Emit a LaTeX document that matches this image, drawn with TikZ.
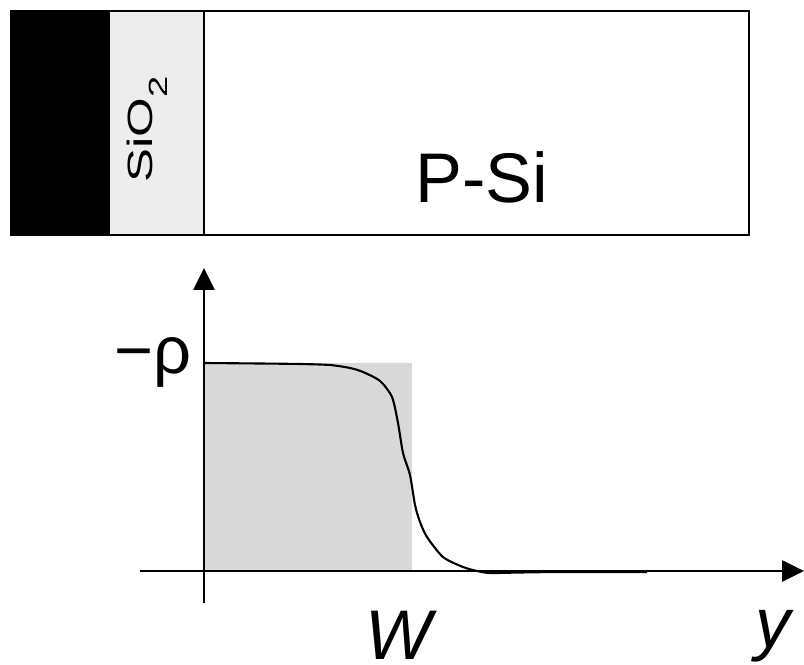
\documentclass[tikz,border=0pt]{standalone}
\usepackage{fontspec}
\setmainfont{Liberation Sans}
\usetikzlibrary{arrows.meta}

\begin{document}
\begin{tikzpicture}[x=0.02cm, y=-0.02cm,
  layer/.style={line width=1pt},
  frame/.style={draw, line width=1.5pt},
  axis/.style={line width=1.3pt, -{Triangle[length=12.5pt, width=12pt]}},
  lbl/.style={inner sep=0pt, font=\fontsize{40}{40}\selectfont},
  charge/.style={line width=1.2pt, smooth, tension=0.45}
]
  \useasboundingbox (0,0) rectangle (804,665);

  % MOS layers
  \fill[black] (11,11) rectangle (109,235);
  \fill[black!7] (109,11) rectangle (204,235);
  \draw[layer] (109,11) -- (109,235) (204,11) -- (204,235);
  \draw[frame] (11,11) rectangle (749,235);
  \node[rotate=90, anchor=base west, inner sep=0pt] (oxide) at (152,183)
    {\scalebox{1.45}[1]{\fontsize{20}{20}\selectfont SiO\raisebox{-9pt}{\fontsize{15}{15}\selectfont 2}}};
  \node[lbl, anchor=base] (psi) at (482,203) {P-Si};

  % depletion charge
  \fill[black!15] (204,363) rectangle (412,571);
  \coordinate (origin) at (204,571);
  \coordinate (vbot) at (204,603);
  \coordinate (vtop) at (204,268);
  \coordinate (hleft) at (140,571);
  \coordinate (hright) at (804,571);
  \draw[axis] (vbot) -- (vtop);
  \draw[axis] (hleft) -- (hright);
  \draw[charge] plot coordinates {(204,363) (260,363.5) (300,364) (330,365)
    (350,368) (363,372) (380,381) (392,397) (398,423) (403,453) (410,475)
    (415,505) (420,522) (427,537) (443,557) (463,567) (477,571) (490,573)
    (520,572.5) (560,572) (647,572)};

  % labels
  \node[inner sep=0pt, anchor=base east, font=\fontsize{38}{38}\selectfont] (rho) at (192,373) {−ρ};
  \node[lbl, anchor=base] (W) at (399,659) {\itshape W};
  \node[lbl, anchor=base] (y) at (773,647) {\itshape y};
\end{tikzpicture}
\end{document}
